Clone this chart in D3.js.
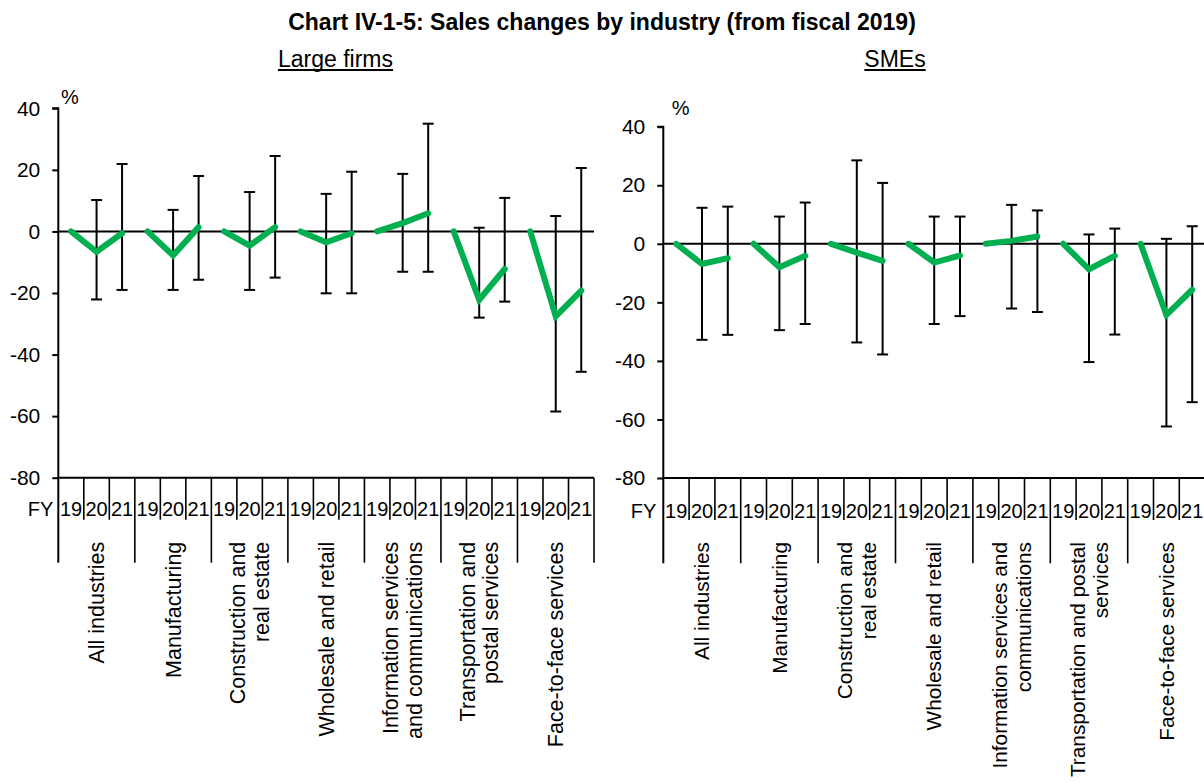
<!DOCTYPE html>
<html>
<head>
<meta charset="utf-8">
<script src="https://cdn.jsdelivr.net/npm/d3@7/dist/d3.min.js"></script>
<style>
  html, body { margin: 0; padding: 0; background: #ffffff; }
  svg { display: block; font-family: "Liberation Sans", Arial, sans-serif; }
</style>
</head>
<body>
<svg id="chart" width="1204" height="783"></svg>
<script>
// ---- data -------------------------------------------------------------
const years = ["19", "20", "21"];
const industries = [
  "All industries", "Manufacturing", "Construction and real estate",
  "Wholesale and retail", "Information services and communications",
  "Transportation and postal services", "Face-to-face services"
];
// axis labels are wrapped differently in the two panels
const largeLabels = [
  ["All industries"], ["Manufacturing"], ["Construction and", "real estate"],
  ["Wholesale and retail"], ["Information services", "and communications"],
  ["Transportation and", "postal services"], ["Face-to-face services"]
];
const smeLabels = [
  ["All industries"], ["Manufacturing"], ["Construction and", "real estate"],
  ["Wholesale and retail"], ["Information services and", "communications"],
  ["Transportation and postal", "services"], ["Face-to-face services"]
];
const yTicks = [-80, -60, -40, -20, 0, 20, 40];

// Large firms: median change (%) and upper/lower range per fiscal year
const largeChange = [
  [0, -6.6, -0.6], [0, -7.8, 1.4], [0, -4.6, 1.4], [0, -3.5, -0.6],
  [0, 2.7, 5.9], [0, -22.2, -12.2], [0, -27.6, -19.2]
];
const largeUpper = [
  [null, 10.2, 21.9], [null, 7.0, 18.0], [null, 12.8, 24.5], [null, 12.2, 19.4],
  [null, 18.7, 35.0], [null, 1.2, 10.9], [null, 5.0, 20.6]
];
const largeLower = [
  [null, -22.1, -19.0], [null, -19.0, -15.7], [null, -19.0, -15.0], [null, -20.1, -20.1],
  [null, -13.1, -13.1], [null, -28.0, -22.8], [null, -58.5, -45.6]
];

// SMEs
const smeChange = [
  [0, -6.9, -4.9], [0, -8.0, -4.1], [0, -3.0, -5.8], [0, -6.4, -4.0],
  [0, 1.0, 2.5], [0, -8.7, -4.1], [0, -24.3, -15.7]
];
const smeUpper = [
  [null, 12.3, 12.7], [null, 9.3, 14.1], [null, 28.5, 20.8], [null, 9.3, 9.3],
  [null, 13.3, 11.4], [null, 3.2, 5.2], [null, 1.7, 6.0]
];
const smeLower = [
  [null, -32.8, -31.1], [null, -29.5, -27.4], [null, -33.7, -37.8], [null, -27.4, -24.7],
  [null, -22.1, -23.3], [null, -40.4, -31.0], [null, -62.4, -54.1]
];

// ---- drawing ----------------------------------------------------------
const svg = d3.select("#chart");
const GREEN = "#00B050";

svg.append("text")
  .attr("x", 602).attr("y", 30)
  .attr("text-anchor", "middle")
  .attr("font-size", 23).attr("font-weight", "bold")
  .text("Chart IV-1-5: Sales changes by industry (from fiscal 2019)");

function drawPanel(cfg) {
  const g = svg.append("g");
  const keys = [];
  industries.forEach((c, i) => years.forEach(y => keys.push(i + "|" + y)));

  const x = d3.scaleBand().domain(keys).range([cfg.x0, cfg.x1]).paddingInner(0).paddingOuter(0);
  const y = d3.scaleLinear().domain([-80, 40]).range([cfg.yBot, cfg.yTop]);
  const cx = k => x(k) + x.bandwidth() / 2;
  const catWidth = (cfg.x1 - cfg.x0) / industries.length;

  // subtitle (underlined)
  const sub = g.append("text")
    .attr("x", cfg.subX).attr("y", cfg.subY)
    .attr("text-anchor", "middle").attr("font-size", 23)
    .text(cfg.title);
  const w = sub.node().getComputedTextLength();
  g.append("line")
    .attr("x1", cfg.subX - w / 2).attr("x2", cfg.subX + w / 2)
    .attr("y1", cfg.subY + 3.5).attr("y2", cfg.subY + 3.5)
    .attr("stroke", "#000").attr("stroke-width", 1.8);

  // unit
  g.append("text").attr("x", cfg.pctX).attr("y", cfg.pctY)
    .attr("font-size", 20).text("%");

  // y axis
  const yAxis = d3.axisLeft(y).tickValues(yTicks).tickSize(6).tickPadding(12)
    .tickFormat(d => String(d));
  const ya = g.append("g").attr("transform", `translate(${cfg.x0},0)`).call(yAxis);
  ya.select(".domain").attr("stroke", "#000").attr("stroke-width", 2)
    .attr("d", `M-6,${y(40)}H0V${y(-80)}`);
  ya.selectAll(".tick line").attr("stroke", "#000").attr("stroke-width", 2);
  ya.selectAll(".tick text").attr("font-size", 21).attr("fill", "#000")
    .attr("font-family", "'Liberation Sans', Arial, sans-serif");

  // horizontal lines: bottom axis and zero line
  [ -80, 0 ].forEach(v => {
    g.append("line").attr("x1", cfg.x0).attr("x2", cfg.x1)
      .attr("y1", y(v)).attr("y2", y(v))
      .attr("stroke", "#000").attr("stroke-width", 2);
  });

  // category axis: year separators, industry separators
  keys.forEach((k, j) => {
    const xl = x(k);
    const major = j % 3 === 0;
    if (j === 0) return;
    g.append("line").attr("x1", xl).attr("x2", xl)
      .attr("y1", cfg.yBot).attr("y2", major ? cfg.majorBot : cfg.yBot + 42)
      .attr("stroke", "#000").attr("stroke-width", 1.6);
  });
  g.append("line").attr("x1", cfg.x0).attr("x2", cfg.x0)
    .attr("y1", cfg.yBot).attr("y2", cfg.majorBot)
    .attr("stroke", "#000").attr("stroke-width", 2);
  g.append("line").attr("x1", cfg.x1).attr("x2", cfg.x1)
    .attr("y1", cfg.yBot).attr("y2", cfg.majorBot)
    .attr("stroke", "#000").attr("stroke-width", 1.6);

  g.append("text").attr("x", cfg.x0 - cfg.fyGap).attr("y", cfg.yearY)
    .attr("text-anchor", "end").attr("font-size", 20).text("FY");
  g.selectAll("text.yr").data(keys).join("text").attr("class", "yr")
    .attr("x", k => cx(k)).attr("y", cfg.yearY)
    .attr("text-anchor", "middle").attr("font-size", 20)
    .text(k => k.split("|")[1]);

  // rotated industry labels
  cfg.labels.forEach((lines, i) => {
    const c = cfg.x0 + catWidth * (i + 0.5);
    const lh = 23.5;
    lines.forEach((ln, li) => {
      const off = (li - (lines.length - 1) / 2) * lh;
      g.append("text")
        .attr("transform", `translate(${c + off},${cfg.catTop}) rotate(-90)`)
        .attr("text-anchor", "end").attr("dy", "0.35em")
        .attr("font-size", cfg.labelSize).text(ln);
    });
  });

  // range bars
  const bars = [];
  cfg.change.forEach((row, i) => row.forEach((v, yi) => {
    if (cfg.upper[i][yi] == null) return;
    bars.push({ k: i + "|" + years[yi], hi: cfg.upper[i][yi], lo: cfg.lower[i][yi] });
  }));
  const eb = g.append("g").attr("stroke", "#000").attr("stroke-width", 2);
  bars.forEach(b => {
    const xc = cx(b.k);
    eb.append("line").attr("x1", xc).attr("x2", xc).attr("y1", y(b.hi)).attr("y2", y(b.lo));
    eb.append("line").attr("x1", xc - 5.5).attr("x2", xc + 5.5).attr("y1", y(b.hi)).attr("y2", y(b.hi));
    eb.append("line").attr("x1", xc - 5.5).attr("x2", xc + 5.5).attr("y1", y(b.lo)).attr("y2", y(b.lo));
  });

  // median change lines per industry
  const line = d3.line().x(d => cx(d.k)).y(d => y(d.v));
  cfg.change.forEach((row, i) => {
    const pts = row.map((v, yi) => ({ k: i + "|" + years[yi], v }));
    g.append("path").attr("d", line(pts))
      .attr("fill", "none").attr("stroke", GREEN).attr("stroke-width", 6)
      .attr("stroke-linecap", "round").attr("stroke-linejoin", "miter");
  });
}

drawPanel({
  title: "Large firms", subX: 335.5, subY: 66.5, pctX: 61, pctY: 104,
  x0: 58.3, x1: 594, yTop: 108.3, yBot: 477.7,
  yearY: 516, majorBot: 562.7, catTop: 541.7, fyGap: 5, labelSize: 21.5,
  labels: largeLabels, change: largeChange, upper: largeUpper, lower: largeLower
});
drawPanel({
  title: "SMEs", subX: 895, subY: 66.5, pctX: 671.7, pctY: 115,
  x0: 663.3, x1: 1205.1, yTop: 126.7, yBot: 478,
  yearY: 518, majorBot: 563.3, catTop: 542, fyGap: 7, labelSize: 20.8,
  labels: smeLabels, change: smeChange, upper: smeUpper, lower: smeLower
});
</script>
</body>
</html>
